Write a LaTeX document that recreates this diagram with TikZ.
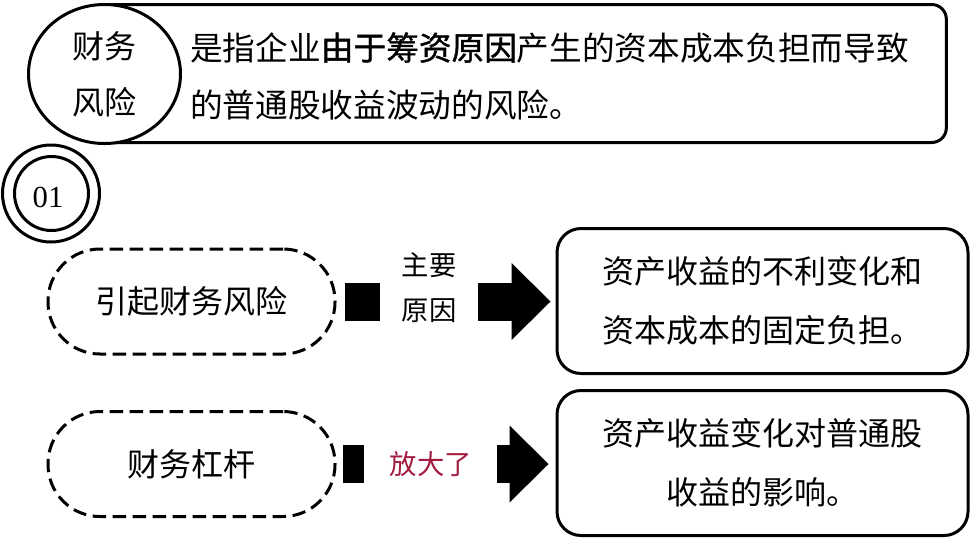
\documentclass[tikz,border=0pt]{standalone}
\usepackage{fontspec}
\newfontfamily\cjk{Noto Sans CJK SC}
\newfontfamily\cjkbold[FakeBold=1.2]{Noto Sans CJK SC}
\newfontfamily\numfont{Liberation Serif}
\usetikzlibrary{shapes.geometric,arrows.meta}
\definecolor{darkred}{HTML}{A31B3F}
\begin{document}
\begin{tikzpicture}[x=0.75pt,y=-0.75pt,
  topbox/.style={draw, line width=2.25pt, rounded corners=11pt, minimum width=635pt, minimum height=103.5pt, inner sep=0pt},
  titleell/.style={draw, fill=white, ellipse, line width=2.25pt, minimum width=114pt, minimum height=104.25pt, inner sep=0pt, align=center, font=\cjk\fontsize{24}{42}\selectfont},
  ring/.style={draw, circle, line width=2.25pt, inner sep=0pt},
  dashbox/.style={draw, line width=2.25pt, dash pattern=on 10pt off 5pt, rounded corners=39pt, minimum width=215.25pt, minimum height=78.75pt, inner sep=0pt, font=\cjk\fontsize{24}{42}\selectfont},
  resbox/.style={draw, line width=2.25pt, rounded corners=18pt, minimum width=308.25pt, minimum height=108.75pt, inner sep=0pt, align=center, font=\cjk\fontsize{24}{44}\selectfont},
  bigarrow/.style={line width=28.5pt, -{Triangle[length=29.25pt, width=57.75pt, line width=0pt]}},
  lab/.style={fill=white, inner xsep=0pt, inner ysep=3pt, align=center, font=\cjk\fontsize{20.5}{33.75}\selectfont}
]
\useasboundingbox (0,0) rectangle (970,537);

% definition box
\node[topbox] (def) at (523,73.5) {};
\node[anchor=west, inner sep=0pt, align=left, font=\cjk\fontsize{24.5}{42.75}\selectfont] (deftext) at (190,76)
  {是指企业{\cjkbold 由于筹资原因}产生的资本成本负担而导致\\的普通股收益波动的风险。};
\node[titleell] (title) at (104.5,74) {财务\\风险};

% 01 badge
\node[ring, minimum size=72.75pt] (badge) at (51,193.5) {};
\node[ring, minimum size=55.5pt] (badgein) at (51.5,193.5) {};
\node[font=\numfont\fontsize{23}{28}\selectfont, inner sep=0pt] (num) at (48,197) {01};

% row 1
\node[dashbox] (d1) at (191.5,301.5) {引起财务风险};
\node[resbox] (r1) at (762.5,301) {资产收益的不利变化和\\资本成本的固定负担。};
\draw[bigarrow, shorten <=6pt, shorten >=3.75pt] (d1.east) -- (d1.east -| r1.west)
  node[lab, pos=0.423, minimum width=73.5pt, yshift=10.5pt] (l1) {主要\\原因};

% row 2
\node[dashbox] (d2) at (191.5,464) {财务杠杆};
\node[resbox] (r2) at (762.5,463) {资产收益变化对普通股\\收益的影响。};
\draw[bigarrow, shorten <=4.5pt, shorten >=5.25pt] (d2.east) -- (d2.east -| r2.west)
  node[lab, pos=0.43, minimum width=99.75pt, minimum height=32pt, text=darkred] (l2) {放大了};
\end{tikzpicture}
\end{document}
